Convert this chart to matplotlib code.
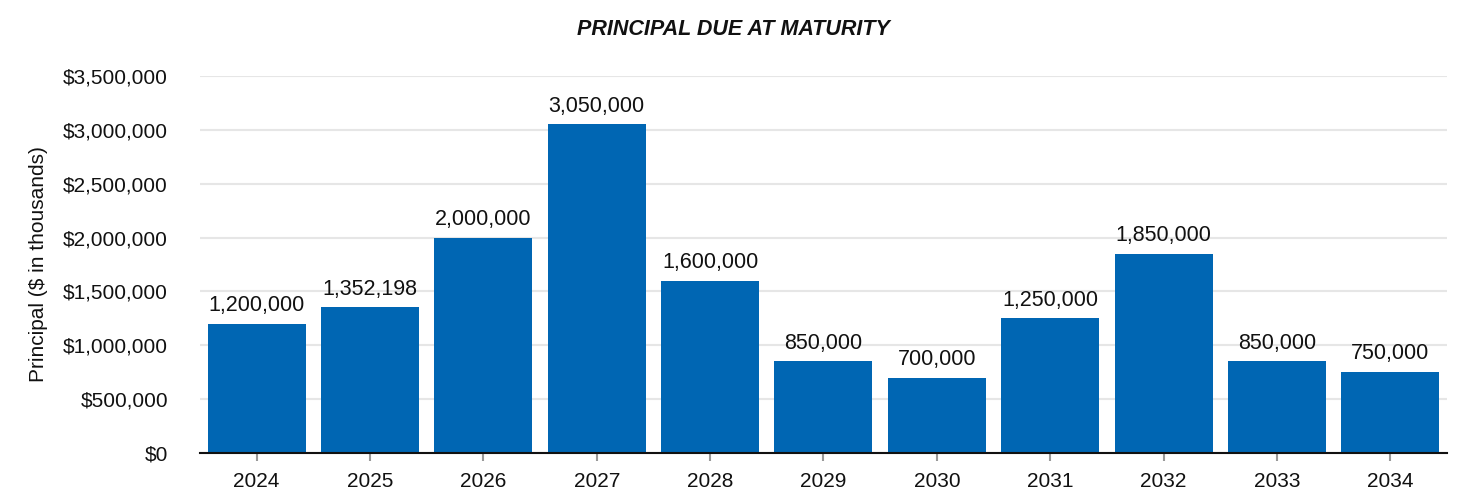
import numpy as np
import matplotlib.pyplot as plt
from matplotlib.ticker import FuncFormatter

years = ['2024', '2025', '2026', '2027', '2028', '2029', '2030', '2031', '2032', '2033', '2034']
principal = [1200000, 1352198, 2000000, 3050000, 1600000, 850000, 700000, 1250000, 1850000, 850000, 750000]

plt.rcParams['font.family'] = ['Liberation Sans', 'DejaVu Sans']

fig = plt.figure(figsize=(14.66, 4.92), dpi=100)
ax = fig.add_axes([0.1364, 0.0793, 0.8506, 0.7662])

x = np.arange(len(years))
ax.bar(x, principal, width=0.865, color='#0066b3', zorder=2)

## 막대 위 값 표시
for xi, v in zip(x, principal):
    ax.text(xi, v + 72000, f'{v:,}', ha='center', va='bottom', fontsize=15.5, color='#111111')

ax.set_xlim(-0.5, len(years) - 0.5)
ax.set_ylim(0, 3500000)
ax.set_yticks(np.arange(0, 3500001, 500000))
ax.yaxis.set_major_formatter(FuncFormatter(lambda v, p: f'${v:,.0f}'))
ax.set_xticks(x)
ax.set_xticklabels(years)

ax.grid(axis='y', color='#e6e6e6', linewidth=1.5, zorder=0)
ax.set_axisbelow(True)
for s in ['top', 'right', 'left']:
    ax.spines[s].set_visible(False)
ax.spines['bottom'].set_color('#111111')
ax.spines['bottom'].set_linewidth(1.5)
ax.spines['bottom'].set_zorder(3)

ax.tick_params(axis='y', length=0, labelsize=15, pad=23, colors='#111111')
ax.tick_params(axis='x', length=6, width=1.5, color='#999999', labelsize=15, labelcolor='#111111', pad=8)

ax.set_ylabel('Principal ($ in thousands)', fontsize=15, labelpad=11, color='#111111')
fig.text(0.5, 0.941, 'PRINCIPAL DUE AT MATURITY', ha='center', va='center',
         fontsize=15.5, fontweight='bold', fontstyle='italic', color='#111111')

fig.savefig('out.png', dpi=100)
